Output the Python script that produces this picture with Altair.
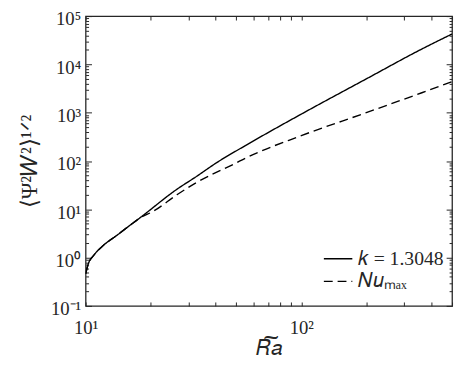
import json
import altair as alt
import pandas as pd

# ---- data ----
ra_solid = [10, 10.3, 10.9, 12.07, 13.9, 15.95, 18.05, 26.5, 32.7, 40.3, 55, 100, 200, 362, 500]
val_solid = [0.46, 0.75, 1.11, 1.78, 2.85, 4.56, 6.9, 26, 48, 91, 208, 935, 5000, 20800, 42600]

ra_dash = [10, 10.3, 10.9, 12.07, 13.9, 15.95, 18.05, 20.5, 26.5, 32.7, 49.6, 55, 100, 200, 362, 500]
val_dash = [0.46, 0.75, 1.11, 1.78, 2.85, 4.56, 6.8, 9.0, 20, 36, 90, 114, 335, 1000, 2590, 4400]

series_names = ["𝑘 = 1.3048", "𝑁𝑢ₘₐₓ"]

x_label_ticks = [10, 100]
x_tick_labels = ["10¹", "10²"]
x_all_ticks = [10, 20, 30, 40, 50, 60, 70, 80, 90, 100, 200, 300, 400, 500]

y_major_ticks = [0.1, 1, 10, 100, 1000, 10000, 100000]
y_tick_labels = ["10⁻¹", "10⁰", "10¹", "10²", "10³", "10⁴", "10⁵"]
y_minor_ticks = [m * 10.0 ** e for e in range(-1, 5) for m in range(2, 10)]

x_title = "𝑅͠𝑎"
y_title = "⟨Ψ²𝑊²⟩¹ᐟ²"

df = pd.DataFrame({
    "Ra": ra_solid + ra_dash,
    "val": val_solid + val_dash,
    "series": [series_names[0]] * len(ra_solid) + [series_names[1]] * len(ra_dash),
})

W, H = 373, 295
FONT = "Liberation Serif"
INK = "#262626"

xs = alt.Scale(type="log", domain=[10, 500], nice=False)
ys = alt.Scale(type="log", domain=[0.1, 100000], nice=False)

x_expr = json.dumps(x_tick_labels, ensure_ascii=False) + "[round(log(datum.value)/LN10)-1]"
y_expr = json.dumps(y_tick_labels, ensure_ascii=False) + "[round(log(datum.value)/LN10)+1]"

lines = alt.Chart(df).mark_line(strokeWidth=1.4, color="black", interpolate="monotone", clip=True).encode(
    x=alt.X("Ra:Q", scale=xs, axis=alt.Axis(
        orient="bottom", values=x_label_ticks, labelExpr=x_expr, ticks=False, domain=False, grid=False,
        labelFlush=False, labelPadding=13, labelFontSize=19, labelFont=FONT, labelColor=INK,
        title=x_title, titleFont=FONT, titleFontSize=21, titleFontWeight="normal", titleColor=INK,
        titlePadding=0)),
    y=alt.Y("val:Q", scale=ys, axis=alt.Axis(
        orient="left", values=y_major_ticks, labelExpr=y_expr, ticks=False, domain=False, grid=False,
        labelFlush=False, labelPadding=5, labelOffset=3, labelFontSize=19, labelFont=FONT,
        labelColor=INK, labelBaseline="middle",
        title=y_title, titleFont=FONT, titleFontSize=23, titleFontWeight="normal", titleColor=INK,
        titlePadding=9)),
    strokeDash=alt.StrokeDash("series:N", scale=alt.Scale(domain=series_names, range=[[1, 0], [9, 5]]),
                              legend=alt.Legend(
                                  orient="none", legendX=247, legendY=237, title="",
                                  symbolType="M-2,0H2", symbolSize=210, symbolStrokeWidth=1.4,
                                  symbolStrokeColor="black", symbolFillColor="transparent",
                                  labelFont=FONT, labelFontSize=20,
                                  labelColor=INK, labelOffset=10, rowPadding=3, padding=0)),
)


def tick_layer(xaxis, yaxis):
    return alt.Chart(df).mark_point(opacity=0).encode(
        x=alt.X("Ra:Q", scale=xs, axis=xaxis),
        y=alt.Y("val:Q", scale=ys, axis=yaxis),
    )


def tick_axis(orient, offset, values, size):
    return alt.Axis(orient=orient, offset=offset, values=values, labels=False, domain=False,
                    grid=False, ticks=True, tickSize=size, tickColor=INK, tickWidth=1, title="")


layers = [
    lines,
    tick_layer(tick_axis("top", -H, x_all_ticks, 4), tick_axis("right", -W, y_major_ticks, 6)),
    tick_layer(tick_axis("bottom", -H, x_all_ticks, 4), tick_axis("left", -W, y_major_ticks, 6)),
    tick_layer(None, tick_axis("right", -W, y_minor_ticks, 3)),
    tick_layer(None, tick_axis("left", -W, y_minor_ticks, 3)),
]

chart = alt.layer(*layers).resolve_axis(x="independent", y="independent").properties(
    width=W, height=H,
    autosize=alt.AutoSizeParams(type="none"),
    padding={"left": 79, "top": 5, "right": 3, "bottom": 62},
).configure_view(stroke=INK, strokeWidth=1.3)

chart.save("out.html", embed_options={"renderer": "svg", "actions": False})
